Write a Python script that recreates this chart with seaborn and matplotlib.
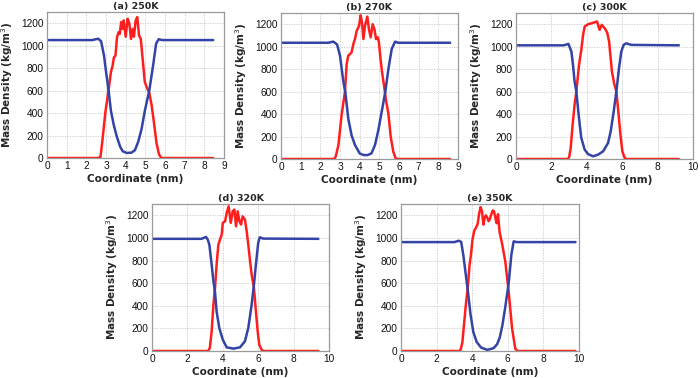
import numpy as np
import pandas as pd
import matplotlib
matplotlib.use("Agg")
import matplotlib.pyplot as plt
import seaborn as sns

# ---------------- data ----------------
titles = ["(a) 250K", "(b) 270K", "(c) 300K", "(d) 320K", "(e) 350K"]
xmax_ticks = [9, 9, 10, 10, 10]

# (a) 250K
xb_a = [0, 2.3, 2.6, 2.75, 2.9, 3.0, 3.13, 3.25, 3.4, 3.55, 3.72, 3.85, 4.05, 4.3, 4.47, 4.64, 4.81, 4.98, 5.2, 5.4, 5.55, 5.68, 5.85, 6.5, 8.45]
yb_a = [1050, 1050, 1062, 1040, 910, 770, 605, 420, 290, 190, 100, 60, 45, 48, 70, 145, 260, 425, 600, 830, 1020, 1058, 1050, 1050, 1050]
xr_a = [0, 2.6, 2.72, 2.83, 2.97, 3.13, 3.25, 3.34, 3.4, 3.48, 3.56, 3.64, 3.7, 3.77, 3.84, 3.9, 4.0, 4.1, 4.19, 4.27, 4.36, 4.42, 4.51, 4.59, 4.68, 4.77, 4.87, 4.97, 5.07, 5.2, 5.32, 5.45, 5.57, 5.7, 5.82, 8.45]
yr_a = [0, 0, 10, 175, 410, 605, 765, 825, 895, 910, 1075, 1120, 1105, 1210, 1150, 1225, 1080, 1240, 1195, 1060, 1150, 1080, 1225, 1255, 1090, 1060, 870, 680, 630, 580, 470, 300, 130, 30, 0, 0]

# (b) 270K
xb_b = [0, 2.4, 2.66, 2.85, 3.0, 3.17, 3.27, 3.42, 3.59, 3.76, 4.0, 4.2, 4.4, 4.6, 4.78, 4.95, 5.12, 5.3, 5.46, 5.63, 5.8, 5.95, 6.5, 8.6]
yb_b = [1035, 1035, 1045, 1020, 920, 690, 596, 360, 210, 125, 50, 35, 35, 50, 125, 257, 420, 596, 800, 980, 1045, 1035, 1035, 1035]
xr_b = [0, 2.7, 2.78, 2.92, 3.08, 3.25, 3.34, 3.42, 3.51, 3.59, 3.68, 3.76, 3.85, 3.97, 4.05, 4.12, 4.19, 4.27, 4.39, 4.47, 4.56, 4.66, 4.75, 4.83, 4.92, 4.98, 5.07, 5.15, 5.25, 5.34, 5.46, 5.58, 5.71, 5.83, 5.92, 8.6]
yr_b = [0, 0, 20, 124, 390, 596, 846, 920, 935, 950, 1024, 1068, 1141, 1186, 1280, 1215, 1068, 1186, 1268, 1156, 1083, 1200, 1156, 1068, 1083, 1038, 876, 758, 640, 522, 404, 197, 65, 6, 0, 0]

# (c) 300K
xb_c = [0, 2.7, 2.96, 3.13, 3.22, 3.31, 3.41, 3.5, 3.6, 3.69, 3.88, 4.07, 4.35, 4.64, 4.92, 5.2, 5.35, 5.52, 5.67, 5.82, 5.95, 6.08, 6.23, 6.51, 9.2]
yb_c = [1012, 1012, 1025, 957, 838, 690, 601, 453, 305, 187, 83, 44, 24, 39, 68, 142, 246, 424, 601, 809, 957, 1016, 1030, 1016, 1012]
xr_c = [0, 2.92, 3.0, 3.09, 3.2, 3.31, 3.41, 3.56, 3.69, 3.79, 3.88, 4.07, 4.26, 4.45, 4.58, 4.66, 4.73, 4.8, 4.86, 4.94, 5.01, 5.1, 5.16, 5.26, 5.33, 5.42, 5.54, 5.67, 5.78, 5.9, 6.01, 6.14, 6.25, 9.2]
yr_c = [0, 0, 15, 98, 305, 483, 601, 838, 972, 1105, 1179, 1200, 1208, 1218, 1224, 1180, 1150, 1185, 1194, 1175, 1165, 1140, 1120, 1046, 927, 779, 676, 601, 424, 216, 68, 9, 0, 0]

# (d) 320K
xb_d = [0, 2.8, 3.05, 3.15, 3.24, 3.37, 3.47, 3.56, 3.65, 3.8, 4.0, 4.22, 4.6, 4.97, 5.25, 5.44, 5.63, 5.76, 5.87, 6.0, 6.09, 6.28, 9.4]
yb_d = [992, 992, 1009, 985, 941, 764, 617, 520, 351, 204, 100, 32, 21, 32, 86, 204, 410, 587, 764, 956, 1006, 994, 992]
xr_d = [0, 3.18, 3.27, 3.37, 3.47, 3.56, 3.65, 3.75, 3.84, 3.94, 4.0, 4.13, 4.22, 4.33, 4.45, 4.56, 4.65, 4.75, 4.84, 4.94, 5.03, 5.12, 5.25, 5.35, 5.44, 5.54, 5.63, 5.76, 5.87, 5.97, 6.06, 6.19, 6.3, 9.4]
yr_d = [0, 0, 30, 174, 410, 558, 764, 941, 985, 1029, 1133, 1147, 1221, 1280, 1133, 1236, 1250, 1103, 1236, 1147, 1118, 1191, 1162, 1059, 941, 794, 675, 558, 351, 174, 56, 12, 0, 0]

# (e) 350K
xb_e = [0, 3.0, 3.24, 3.38, 3.5, 3.62, 3.75, 3.9, 4.06, 4.25, 4.5, 4.85, 5.2, 5.4, 5.55, 5.7, 5.85, 6.05, 6.2, 6.33, 6.5, 9.8]
yb_e = [963, 963, 975, 965, 850, 700, 540, 330, 170, 80, 30, 10, 25, 60, 120, 230, 380, 600, 850, 970, 963, 963]
xr_e = [0, 3.28, 3.36, 3.45, 3.55, 3.65, 3.75, 3.85, 3.93, 4.02, 4.12, 4.21, 4.3, 4.4, 4.47, 4.55, 4.63, 4.7, 4.77, 4.85, 4.92, 5.0, 5.07, 5.15, 5.22, 5.3, 5.37, 5.45, 5.54, 5.67, 5.86, 6.05, 6.24, 6.42, 6.55, 9.8]
yr_e = [0, 0, 15, 80, 250, 420, 560, 760, 850, 990, 1065, 1090, 1120, 1222, 1272, 1237, 1118, 1178, 1200, 1178, 1148, 1170, 1207, 1242, 1237, 1180, 1130, 1210, 1050, 957, 791, 524, 200, 20, 0, 0]

panels = [(xb_a, yb_a, xr_a, yr_a), (xb_b, yb_b, xr_b, yr_b), (xb_c, yb_c, xr_c, yr_c),
          (xb_d, yb_d, xr_d, yr_d), (xb_e, yb_e, xr_e, yr_e)]

# ---------------- style ----------------
sns.set_theme(style="whitegrid")
plt.rcParams['font.family'] = ['DejaVu Sans']

BLUE = "#3343a6"
RED = "#ff1e1e"

fig = plt.figure(figsize=(7.0, 3.78), dpi=100)
W, H = 700, 378
boxes = [(47, 12, 224, 158), (281, 13, 458, 159), (516, 13, 693, 159),
         (152, 204, 329, 351), (401, 204, 579, 351)]

for i, (box, dat) in enumerate(zip(boxes, panels)):
    l, t, r, b = box
    ax = fig.add_axes([l / W, 1 - b / H, (r - l) / W, (b - t) / H])
    xb, yb, xr, yr = dat
    dfb = pd.DataFrame({"x": xb, "y": yb})
    dfr = pd.DataFrame({"x": xr, "y": yr})
    sns.lineplot(data=dfr, x="x", y="y", ax=ax, color=RED, linewidth=1.8, sort=False)
    sns.lineplot(data=dfb, x="x", y="y", ax=ax, color=BLUE, linewidth=1.8, sort=False)
    ax.set_xlim(0, xmax_ticks[i])
    ax.set_ylim(0, 1300)
    if xmax_ticks[i] == 9:
        ax.set_xticks(range(0, 10, 1))
    else:
        ax.set_xticks(range(0, 11, 2))
    ax.set_yticks(range(0, 1201, 200))
    ax.grid(True, linestyle=(0, (1.5, 1.5)), color="#c8c8c8", linewidth=0.6)
    for s in ax.spines.values():
        s.set_color("#9a9a9a")
        s.set_linewidth(0.9)
    ax.tick_params(axis="both", length=0, pad=2.5, labelsize=7.3, colors="#111111")
    for lab in ax.get_xticklabels() + ax.get_yticklabels():
        lab.set_fontfamily("Liberation Sans")
    ax.set_xlabel("Coordinate (nm)", fontsize=7.5, fontweight="bold", labelpad=2)
    ax.set_ylabel(r"Mass Density (kg/m$^3$)", fontsize=7.5, fontweight="bold", labelpad=4)
    ax.set_title(titles[i], fontsize=6.8, fontweight="bold", pad=2.5)

fig.savefig("out.png", dpi=100, facecolor="white")
